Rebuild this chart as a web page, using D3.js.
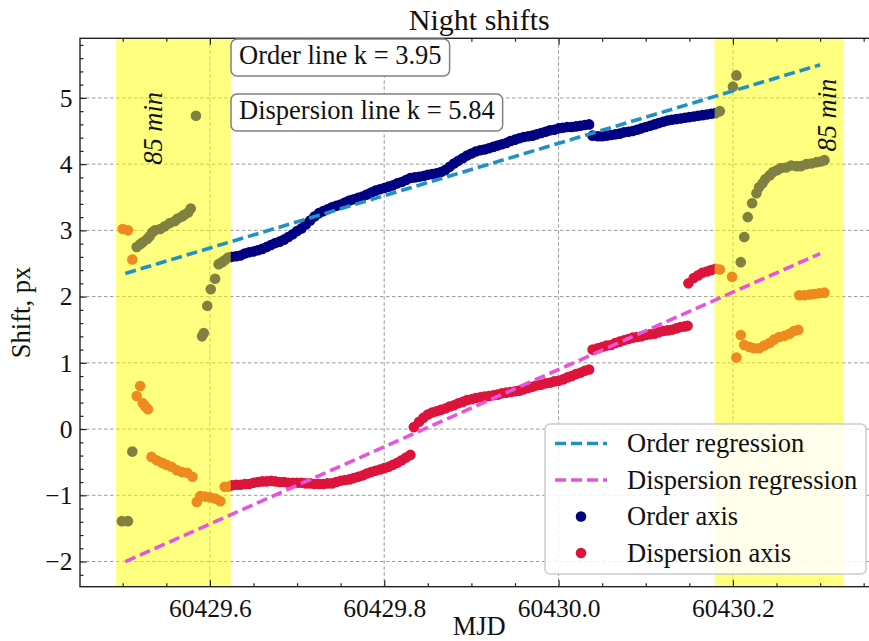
<!DOCTYPE html>
<html>
<head>
<meta charset="utf-8">
<script src="https://cdn.jsdelivr.net/npm/d3@7"></script>
<style>
  body { margin: 0; background: #fff; }
  svg { display: block; font-family: "Liberation Serif", "DejaVu Serif", serif; }
</style>
</head>
<body>
<svg id="chart" width="869" height="641"></svg>
<script>
// 値は図から読み取ったもの [MJD, shift px]
const orderPoints = [
  [60429.499, -1.39], [60429.506, -1.39], [60429.511, -0.34], [60429.516, 2.75], [60429.520, 2.79],
  [60429.523, 2.82], [60429.528, 2.87], [60429.531, 2.91], [60429.534, 2.97], [60429.537, 3.00],
  [60429.543, 3.02], [60429.548, 3.06], [60429.554, 3.11], [60429.560, 3.14], [60429.563, 3.18],
  [60429.568, 3.21], [60429.571, 3.24], [60429.575, 3.27], [60429.578, 3.33], [60429.584, 4.73],
  [60429.591, 1.40], [60429.593, 1.45], [60429.597, 1.86], [60429.601, 2.11], [60429.606, 2.27],
  [60429.610, 2.49], [60429.614, 2.52], [60429.617, 2.55], [60429.621, 2.59],
  [60429.625, 2.60], [60429.630, 2.61], [60429.635, 2.62], [60429.640, 2.65], [60429.645, 2.67],
  [60429.650, 2.68], [60429.655, 2.70], [60429.660, 2.72], [60429.665, 2.75], [60429.670, 2.78],
  [60429.675, 2.81], [60429.680, 2.83], [60429.685, 2.86], [60429.690, 2.90], [60429.695, 2.94],
  [60429.700, 2.99], [60429.705, 3.03], [60429.710, 3.09], [60429.715, 3.15], [60429.720, 3.21],
  [60429.725, 3.26], [60429.730, 3.29], [60429.735, 3.32], [60429.740, 3.35], [60429.745, 3.37],
  [60429.750, 3.39], [60429.755, 3.42], [60429.760, 3.45], [60429.765, 3.47], [60429.770, 3.49],
  [60429.775, 3.51], [60429.780, 3.54], [60429.785, 3.57], [60429.790, 3.60], [60429.795, 3.62],
  [60429.800, 3.64], [60429.805, 3.66], [60429.810, 3.68], [60429.815, 3.71], [60429.820, 3.73],
  [60429.825, 3.76], [60429.830, 3.79], [60429.835, 3.80], [60429.840, 3.81], [60429.845, 3.82],
  [60429.850, 3.84], [60429.855, 3.85], [60429.860, 3.86], [60429.865, 3.88], [60429.870, 3.91],
  [60429.875, 3.96], [60429.880, 4.01], [60429.885, 4.05], [60429.890, 4.09], [60429.895, 4.13],
  [60429.900, 4.16], [60429.905, 4.19], [60429.910, 4.21], [60429.915, 4.22], [60429.920, 4.24],
  [60429.925, 4.26], [60429.930, 4.28], [60429.935, 4.30], [60429.940, 4.32], [60429.945, 4.35],
  [60429.950, 4.37], [60429.955, 4.39], [60429.960, 4.41], [60429.965, 4.42], [60429.970, 4.43],
  [60429.975, 4.45], [60429.980, 4.47], [60429.985, 4.49], [60429.990, 4.51], [60429.995, 4.52],
  [60430.000, 4.54], [60430.005, 4.55], [60430.010, 4.56], [60430.015, 4.56], [60430.020, 4.57],
  [60430.025, 4.58], [60430.030, 4.59], [60430.035, 4.60], [60430.039, 4.43], [60430.045, 4.42],
  [60430.050, 4.42], [60430.055, 4.43], [60430.060, 4.44], [60430.065, 4.45], [60430.070, 4.46],
  [60430.075, 4.48], [60430.080, 4.49], [60430.085, 4.50], [60430.090, 4.52], [60430.095, 4.54],
  [60430.100, 4.56], [60430.105, 4.58], [60430.110, 4.60], [60430.115, 4.62], [60430.120, 4.64],
  [60430.125, 4.66], [60430.130, 4.67], [60430.135, 4.68], [60430.140, 4.69], [60430.145, 4.70],
  [60430.150, 4.71], [60430.155, 4.72], [60430.160, 4.73], [60430.165, 4.74], [60430.170, 4.75],
  [60430.175, 4.76], [60430.180, 4.77],
  [60430.185, 4.80], [60430.200, 5.17], [60430.204, 5.34], [60430.209, 2.52], [60430.213, 2.90],
  [60430.217, 3.20], [60430.222, 3.41], [60430.227, 3.56], [60430.230, 3.65], [60430.234, 3.71],
  [60430.237, 3.77], [60430.242, 3.83], [60430.246, 3.88], [60430.251, 3.91], [60430.255, 3.94],
  [60430.261, 3.95], [60430.267, 3.98], [60430.273, 3.97], [60430.278, 3.97], [60430.284, 4.00],
  [60430.290, 4.01], [60430.296, 4.03], [60430.301, 4.04], [60430.305, 4.06]
];

const dispersionPoints = [
  [60429.500, 3.02], [60429.506, 3.00], [60429.511, 2.56], [60429.516, 0.50], [60429.520, 0.65],
  [60429.523, 0.39], [60429.526, 0.34], [60429.529, 0.30], [60429.533, -0.42], [60429.539, -0.47],
  [60429.545, -0.51], [60429.550, -0.54], [60429.556, -0.57], [60429.562, -0.62], [60429.568, -0.65],
  [60429.574, -0.66], [60429.580, -0.72], [60429.585, -1.10], [60429.589, -1.01], [60429.594, -1.02],
  [60429.600, -1.03], [60429.606, -1.05], [60429.612, -1.09], [60429.617, -0.87], [60429.621, -0.87],
  [60429.625, -0.85], [60429.630, -0.84], [60429.635, -0.84], [60429.640, -0.83], [60429.645, -0.83],
  [60429.650, -0.81], [60429.655, -0.80], [60429.660, -0.79], [60429.665, -0.79], [60429.670, -0.78],
  [60429.675, -0.79], [60429.680, -0.80], [60429.685, -0.80], [60429.690, -0.81], [60429.695, -0.81],
  [60429.700, -0.81], [60429.705, -0.81], [60429.710, -0.82], [60429.715, -0.82], [60429.720, -0.83],
  [60429.725, -0.83], [60429.730, -0.83], [60429.735, -0.82], [60429.740, -0.82], [60429.745, -0.80],
  [60429.750, -0.78], [60429.755, -0.77], [60429.760, -0.76], [60429.765, -0.74], [60429.770, -0.72],
  [60429.775, -0.70], [60429.780, -0.67], [60429.785, -0.65], [60429.790, -0.63], [60429.795, -0.61],
  [60429.800, -0.59], [60429.805, -0.57], [60429.810, -0.54], [60429.815, -0.51], [60429.820, -0.47],
  [60429.825, -0.43], [60429.830, -0.39], [60429.834, 0.03], [60429.840, 0.11], [60429.845, 0.17],
  [60429.850, 0.22], [60429.855, 0.25], [60429.860, 0.27], [60429.865, 0.29], [60429.870, 0.31],
  [60429.875, 0.34], [60429.880, 0.36], [60429.885, 0.39], [60429.890, 0.41], [60429.895, 0.44],
  [60429.900, 0.45], [60429.905, 0.47], [60429.910, 0.48], [60429.915, 0.49], [60429.920, 0.50],
  [60429.925, 0.51], [60429.930, 0.52], [60429.935, 0.54], [60429.940, 0.55], [60429.945, 0.56],
  [60429.950, 0.57], [60429.955, 0.58], [60429.960, 0.60], [60429.965, 0.62], [60429.970, 0.64],
  [60429.975, 0.66], [60429.980, 0.67], [60429.985, 0.69], [60429.990, 0.70], [60429.995, 0.72],
  [60430.000, 0.73], [60430.005, 0.75], [60430.010, 0.78], [60430.015, 0.80], [60430.020, 0.83],
  [60430.025, 0.85], [60430.030, 0.88], [60430.035, 0.90], [60430.039, 1.20], [60430.045, 1.22],
  [60430.050, 1.24], [60430.055, 1.26], [60430.060, 1.27], [60430.065, 1.30], [60430.070, 1.32],
  [60430.075, 1.34], [60430.080, 1.36], [60430.085, 1.38], [60430.090, 1.39], [60430.095, 1.40],
  [60430.100, 1.42], [60430.105, 1.43], [60430.110, 1.44], [60430.115, 1.46], [60430.120, 1.48],
  [60430.125, 1.49], [60430.130, 1.50], [60430.135, 1.52], [60430.140, 1.54], [60430.145, 1.55],
  [60430.148, 1.56], [60430.149, 2.20], [60430.155, 2.28], [60430.160, 2.32], [60430.165, 2.36],
  [60430.170, 2.38], [60430.175, 2.40], [60430.180, 2.42],
  [60430.185, 2.41], [60430.199, 2.30], [60430.204, 1.08], [60430.209, 1.42], [60430.213, 1.27],
  [60430.219, 1.24], [60430.224, 1.22], [60430.230, 1.22], [60430.236, 1.26], [60430.242, 1.30],
  [60430.247, 1.35], [60430.253, 1.39], [60430.259, 1.41], [60430.265, 1.44], [60430.270, 1.48],
  [60430.275, 1.50], [60430.276, 2.02], [60430.282, 2.02], [60430.288, 2.03], [60430.293, 2.04],
  [60430.299, 2.05], [60430.305, 2.06]
];

// 夜の両端の85分間
const nightSpans = [[60429.4924, 60429.6240], [60430.1790, 60430.3263]];
const spanLabels = [[60429.5450, 4.54], [60430.3180, 4.74]];

// 回帰直線の両端
const regressionMjd = [60429.503, 60430.300];
const orderRegression = [2.35, 5.50];
const dispersionRegression = [-2.00, 2.65];

const xTicks = [60429.6, 60429.8, 60430.0, 60430.2];
const yTicks = [-2, -1, 0, 1, 2, 3, 4, 5];
const slopeLabels = ['Order line k = 3.95', 'Dispersion line k = 5.84'];
const legendLabels = ['Order regression', 'Dispersion regression', 'Order axis', 'Dispersion axis'];

const colors = {
  order: '#000080',
  dispersion: '#dc143c',
  orderLine: '#2192c0',
  dispersionLine: '#e655dc'
};

// 軸の右端は画像の外にはみ出している
const margin = { left: 80, right: 878.5, top: 38.3, bottom: 586.7 };

const x = d3.scaleLinear().domain([60429.451, 60430.367]).range([margin.left, margin.right]);
const y = d3.scaleLinear().domain([-2.38, 5.9]).range([margin.bottom, margin.top]);

const svg = d3.select('#chart');
const SERIF = '"Liberation Serif", serif';
const TICK_FONT = 25.5;
const FONT = 26.5;

// grid
const grid = svg.append('g')
  .attr('stroke', '#9a9a9a')
  .attr('stroke-width', 1)
  .attr('stroke-dasharray', '3.5,2.5');
grid.selectAll('line.gx').data(xTicks).join('line')
  .attr('x1', d => x(d)).attr('x2', d => x(d))
  .attr('y1', margin.top).attr('y2', margin.bottom);
grid.selectAll('line.gy').data(yTicks).join('line')
  .attr('x1', margin.left).attr('x2', margin.right)
  .attr('y1', d => y(d)).attr('y2', d => y(d));

// scatter
const drawPoints = (data, color) => {
  svg.append('g').attr('fill', color)
    .selectAll('circle').data(data).join('circle')
    .attr('cx', d => x(d[0]))
    .attr('cy', d => y(d[1]))
    .attr('r', 5.3);
};
drawPoints(orderPoints, colors.order);
drawPoints(dispersionPoints, colors.dispersion);

// 黄色の帯は点の上に半透明で重ねる
svg.append('g').selectAll('rect').data(nightSpans).join('rect')
  .attr('x', d => x(d[0]))
  .attr('width', d => x(d[1]) - x(d[0]))
  .attr('y', margin.top)
  .attr('height', margin.bottom - margin.top)
  .attr('fill', '#ffff00')
  .attr('fill-opacity', 0.5);

// regression lines
const line = d3.line().x(d => x(d[0])).y(d => y(d[1]));
const drawRegression = (values, color) => {
  svg.append('path')
    .datum(regressionMjd.map((m, i) => [m, values[i]]))
    .attr('d', line)
    .attr('fill', 'none')
    .attr('stroke', color)
    .attr('stroke-width', 3.6)
    .attr('stroke-dasharray', '11,5');
};
drawRegression(orderRegression, colors.orderLine);
drawRegression(dispersionRegression, colors.dispersionLine);

// axes
const fmt = d3.format('.1f');
const minorX = x.ticks(20).filter(t => !xTicks.some(v => Math.abs(v - t) < 1e-6));
const minorY = y.ticks(40).filter(t => !yTicks.some(v => Math.abs(v - t) < 1e-6));

const styleAxis = g => {
  g.attr('font-family', SERIF).attr('font-size', TICK_FONT);
  g.select('.domain').remove();
  g.selectAll('.tick line').attr('stroke', '#222').attr('stroke-width', 1.2);
  g.selectAll('.tick text').attr('fill', '#111');
};

svg.append('g').attr('transform', `translate(0,${margin.bottom})`)
  .call(d3.axisBottom(x).tickValues(xTicks).tickSizeInner(-6.5).tickSizeOuter(0)
    .tickPadding(12.5).tickFormat(fmt))
  .call(styleAxis);
svg.append('g').attr('transform', `translate(0,${margin.bottom})`)
  .call(d3.axisBottom(x).tickValues(minorX).tickSizeInner(-3.5).tickSizeOuter(0).tickFormat(''))
  .call(styleAxis);
svg.append('g').attr('transform', `translate(0,${margin.top})`)
  .call(d3.axisTop(x).tickValues(xTicks).tickSizeInner(-6.5).tickSizeOuter(0).tickFormat(''))
  .call(styleAxis);
svg.append('g').attr('transform', `translate(0,${margin.top})`)
  .call(d3.axisTop(x).tickValues(minorX).tickSizeInner(-3.5).tickSizeOuter(0).tickFormat(''))
  .call(styleAxis);

svg.append('g').attr('transform', `translate(${margin.left},0)`)
  .call(d3.axisLeft(y).tickValues(yTicks).tickSizeInner(-6.5).tickSizeOuter(0)
    .tickPadding(7.5).tickFormat(d => d < 0 ? '\u2212' + Math.abs(d) : d))
  .call(styleAxis);
svg.append('g').attr('transform', `translate(${margin.left},0)`)
  .call(d3.axisLeft(y).tickValues(minorY).tickSizeInner(-3.5).tickSizeOuter(0).tickFormat(''))
  .call(styleAxis);

// spines
svg.append('rect')
  .attr('x', margin.left).attr('y', margin.top)
  .attr('width', margin.right - margin.left)
  .attr('height', margin.bottom - margin.top)
  .attr('fill', 'none')
  .attr('stroke', '#222')
  .attr('stroke-width', 1.4);

// 85 min labels
svg.append('g').selectAll('text').data(spanLabels).join('text')
  .attr('transform', d => `translate(${x(d[0])},${y(d[1])}) rotate(-90)`)
  .attr('text-anchor', 'middle')
  .attr('font-size', FONT)
  .attr('font-style', 'italic')
  .attr('fill', '#111')
  .text('85 min');

// slope boxes
slopeLabels.forEach((label, i) => {
  const g = svg.append('g');
  const baseline = [63.5, 118.5][i];
  const t = g.append('text')
    .attr('x', 239).attr('y', baseline)
    .attr('font-size', FONT)
    .attr('fill', '#111')
    .text(label);
  const w = t.node().getComputedTextLength();
  g.insert('rect', 'text')
    .attr('x', 231).attr('y', baseline - 24.5)
    .attr('width', w + 16).attr('height', 37)
    .attr('rx', 6)
    .attr('fill', '#fff')
    .attr('stroke', '#808080')
    .attr('stroke-width', 1.5);
});

// legend
const legend = svg.append('g').attr('transform', 'translate(545,424)');
legend.append('rect')
  .attr('width', 321).attr('height', 150)
  .attr('rx', 5)
  .attr('fill', '#fff').attr('fill-opacity', 0.85)
  .attr('stroke', '#cccccc').attr('stroke-width', 1.5);
const rows = legendLabels.map((label, i) => ({ label, i, cy: 19.5 + i * 36.5 }));
rows.forEach(({ label, i, cy }) => {
  if (i < 2) {
    legend.append('line')
      .attr('x1', 10).attr('x2', 62).attr('y1', cy).attr('y2', cy)
      .attr('stroke', i === 0 ? colors.orderLine : colors.dispersionLine)
      .attr('stroke-width', 3.6)
      .attr('stroke-dasharray', '11,5');
  } else {
    legend.append('circle')
      .attr('cx', 36).attr('cy', cy).attr('r', 5.3)
      .attr('fill', i === 2 ? colors.order : colors.dispersion);
  }
  legend.append('text')
    .attr('x', 82).attr('y', cy + 8.5)
    .attr('font-size', FONT)
    .attr('fill', '#111')
    .text(label);
});

// titles
const cx = (margin.left + margin.right) / 2;
svg.append('text')
  .attr('x', cx).attr('y', 29.5)
  .attr('text-anchor', 'middle')
  .attr('font-size', 30)
  .attr('fill', '#111')
  .text('Night shifts');
svg.append('text')
  .attr('x', cx).attr('y', 635)
  .attr('text-anchor', 'middle')
  .attr('font-size', FONT)
  .attr('fill', '#111')
  .text('MJD');
svg.append('text')
  .attr('transform', `translate(30,${(margin.top + margin.bottom) / 2}) rotate(-90)`)
  .attr('text-anchor', 'middle')
  .attr('font-size', FONT)
  .attr('fill', '#111')
  .text('Shift, px');
</script>
</body>
</html>
